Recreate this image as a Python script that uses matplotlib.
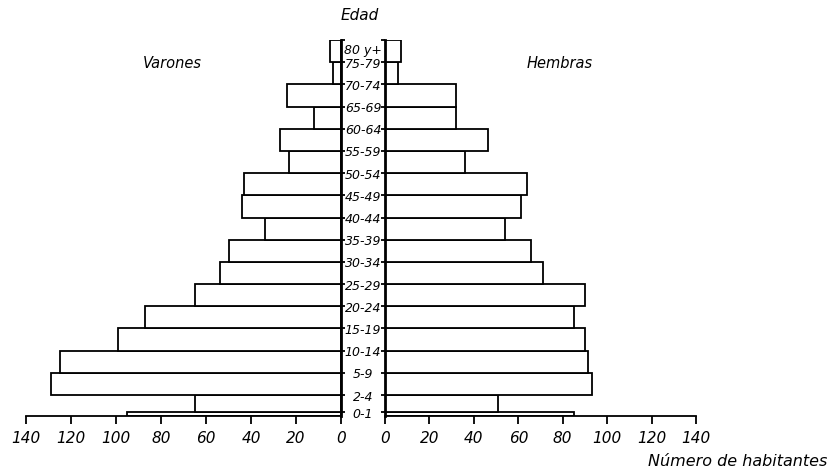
import numpy as np
import matplotlib
matplotlib.use("Agg")
import matplotlib.pyplot as plt
from matplotlib.transforms import blended_transform_factory

# grupos de edad, de abajo hacia arriba
edades = ["0-1", "2-4", "5-9", "10-14", "15-19", "20-24", "25-29", "30-34",
          "35-39", "40-44", "45-49", "50-54", "55-59", "60-64", "65-69",
          "70-74", "75-79", "80 y+"]
varones = [95, 65, 129, 125, 99, 87, 65, 54, 50, 34, 44, 43, 23, 27, 12, 24, 3.5, 5]
hembras = [85, 51, 93, 91.5, 90, 85, 90, 71, 65.5, 54, 61, 64, 36, 46.5, 32, 32, 6, 7]
ticks_x = [0, 20, 40, 60, 80, 100, 120, 140]

# alto de cada franja (estilo del dibujo, no datos)
alto = [4, 17] + [22.2] * 16
base = np.concatenate([[0], np.cumsum(alto)[:-1]])
total = sum(alto)

W, H = 832, 472
fig = plt.figure(figsize=(W / 100, H / 100), dpi=100)
y0 = (H - 416) / H
y1 = (H - 40) / H
axL = fig.add_axes([26 / W, y0, (341 - 26) / W, y1 - y0])
axR = fig.add_axes([385 / W, y0, (696 - 385) / W, y1 - y0])

lw = 1.3
font = dict(family="DejaVu Sans", style="italic")

for ax, vals in [(axL, varones), (axR, hembras)]:
    ax.barh(base, vals, height=alto, align="edge", color="white",
            edgecolor="black", linewidth=lw)
    ax.set_ylim(0, total)
    ax.set_xticks(ticks_x)
    ax.set_xticklabels([str(t) for t in ticks_x], fontsize=11, **font)
    ax.tick_params(axis="x", direction="out", length=6, width=lw, pad=5)
    ax.set_yticks(list(base[1:]) + [total])
    ax.set_yticklabels([])
    for s in ax.spines.values():
        s.set_visible(False)
    ax.spines["bottom"].set_visible(True)
    ax.spines["bottom"].set_linewidth(lw)

axL.set_xlim(140, 0)
axR.set_xlim(0, 140)
axL.spines["right"].set_visible(True)
axL.spines["right"].set_linewidth(2)
axR.spines["left"].set_visible(True)
axR.spines["left"].set_linewidth(2)
axL.yaxis.tick_right()
axL.tick_params(axis="y", direction="out", length=3, width=lw)
axR.yaxis.tick_left()
axR.tick_params(axis="y", direction="out", length=3, width=lw)

# etiquetas de edad en el pasillo central
tr = blended_transform_factory(fig.transFigure, axL.transData)
for i, lab in enumerate(edades):
    yy = base[i] + alto[i]
    if lab == "80 y+":
        yy = base[i] + alto[i] * 0.6
    fig.text(363 / W, yy - 2, lab, transform=tr, ha="center", va="center",
             fontsize=9, **font)

fig.text(360 / W, (H - 15) / H, "Edad", ha="center", va="center", fontsize=11, **font)
fig.text(172 / W, (H - 63) / H, "Varones", ha="center", va="center", fontsize=10.5, **font)
fig.text(560 / W, (H - 63) / H, "Hembras", ha="center", va="center", fontsize=10.5, **font)
fig.text(827 / W, (H - 462) / H, "Número de habitantes", ha="right", va="center",
         fontsize=11.5, **font)

fig.savefig("out.png", dpi=100, facecolor="white")
